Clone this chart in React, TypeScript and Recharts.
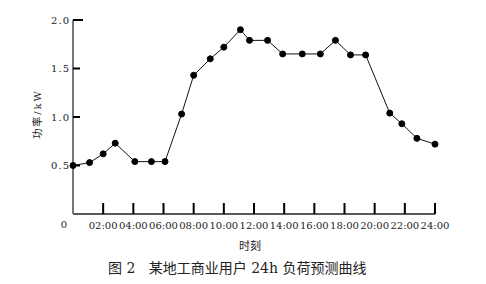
import React from "react";
import { LineChart, Line, XAxis, YAxis, Label } from "recharts";

// sample times (hours) and predicted load (kW)
const HOURS = [0, 1.1, 2, 2.8, 4.1, 5.2, 6.1, 7.2, 8, 9.1, 10, 11.1, 11.7, 12.9, 13.9, 15.2, 16.4, 17.4, 18.4, 19.4, 21, 21.8, 22.8, 24];
const LOAD = [0.5, 0.53, 0.62, 0.73, 0.54, 0.54, 0.54, 1.03, 1.43, 1.6, 1.72, 1.9, 1.79, 1.79, 1.65, 1.65, 1.65, 1.79, 1.64, 1.64, 1.04, 0.93, 0.78, 0.72];

const X_TICKS = [0, 2, 4, 6, 8, 10, 12, 14, 16, 18, 20, 22, 24];
const Y_TICKS = [0.5, 1.0, 1.5, 2.0];

const TITLE = "图 2   某地工商业用户 24h 负荷预测曲线";
const X_LABEL = "时刻";
const Y_LABEL = "功率/kW";

const FONT = '"DejaVu Serif", "Noto Sans CJK SC", serif';

const data = HOURS.map((h, i) => ({ hour: h, load: LOAD[i] }));

const pad = (h: number) => (h < 10 ? `0${h}` : `${h}`) + ":00";

// x ticks: marks point up into the plot, "0" sits left of the origin
const XTick = (props: any) => {
  const { x, y, payload } = props;
  const v = payload.value as number;
  return (
    <g>
      {v > 0 && <line x1={x} y1={y} x2={x} y2={y - 11} stroke="#000" strokeWidth={2} />}
      <text
        x={v === 0 ? x - 9 : x}
        y={y + (v === 0 ? 10 : 11)}
        textAnchor="middle"
        dominantBaseline="central"
        fontSize={10}
        fontFamily={FONT}
        fill="#222"
      >
        {v === 0 ? "0" : pad(v)}
      </text>
    </g>
  );
};

// y ticks: marks point right into the plot
const YTick = (props: any) => {
  const { x, y, payload } = props;
  const v = payload.value as number;
  return (
    <g>
      <line x1={x + 3} y1={y} x2={x + (v === 2 ? 13 : 10)} y2={y} stroke="#000" strokeWidth={2} />
      <text x={x} y={y} textAnchor="end" dominantBaseline="central" fontSize={10} fontFamily={FONT} fill="#222" letterSpacing={1}>
        {v.toFixed(1)}
      </text>
    </g>
  );
};

export default function App() {
  return (
    <div style={{ position: "absolute", left: 0, top: 0, width: 486, height: 284, background: "#fff" }}>
      <LineChart width={486} height={284} data={data} margin={{ top: 20, right: 51, bottom: 30, left: 33 }}>
        <XAxis
          dataKey="hour"
          type="number"
          domain={[0, 24]}
          ticks={X_TICKS}
          tick={<XTick />}
          tickSize={0}
          tickMargin={0}
          height={40}
          axisLine={{ stroke: "#222", strokeWidth: 1.5 }}
          interval={0}
        >
          <Label
            content={() => (
              <text x={250} y={246} textAnchor="middle" dominantBaseline="central" fontSize={11} fontFamily={FONT} fill="#222">
                {X_LABEL}
              </text>
            )}
          />
        </XAxis>
        <YAxis
          type="number"
          domain={[0, 2]}
          ticks={Y_TICKS}
          tick={<YTick />}
          tickSize={0}
          tickMargin={3}
          width={40}
          axisLine={{ stroke: "#777", strokeWidth: 2 }}
          interval={0}
        >
          <Label
            content={() => (
              <text
                x={37}
                y={114}
                transform="rotate(-90 37 114)"
                textAnchor="middle"
                dominantBaseline="central"
                fontSize={10}
                fontFamily={FONT}
                fill="#222"
                letterSpacing={2}
              >
                {Y_LABEL}
              </text>
            )}
          />
        </YAxis>
        <Line
          type="linear"
          dataKey="load"
          stroke="#111"
          strokeWidth={1}
          dot={{ r: 3, fill: "#000", stroke: "#000", strokeWidth: 1 }}
          isAnimationActive={false}
        />
      </LineChart>
      <div
        style={{
          position: "absolute",
          left: 108,
          top: 260,
          fontSize: 14,
          lineHeight: "16px",
          fontFamily: FONT,
          whiteSpace: "pre",
          color: "#222",
        }}
      >
        {TITLE}
      </div>
    </div>
  );
}
